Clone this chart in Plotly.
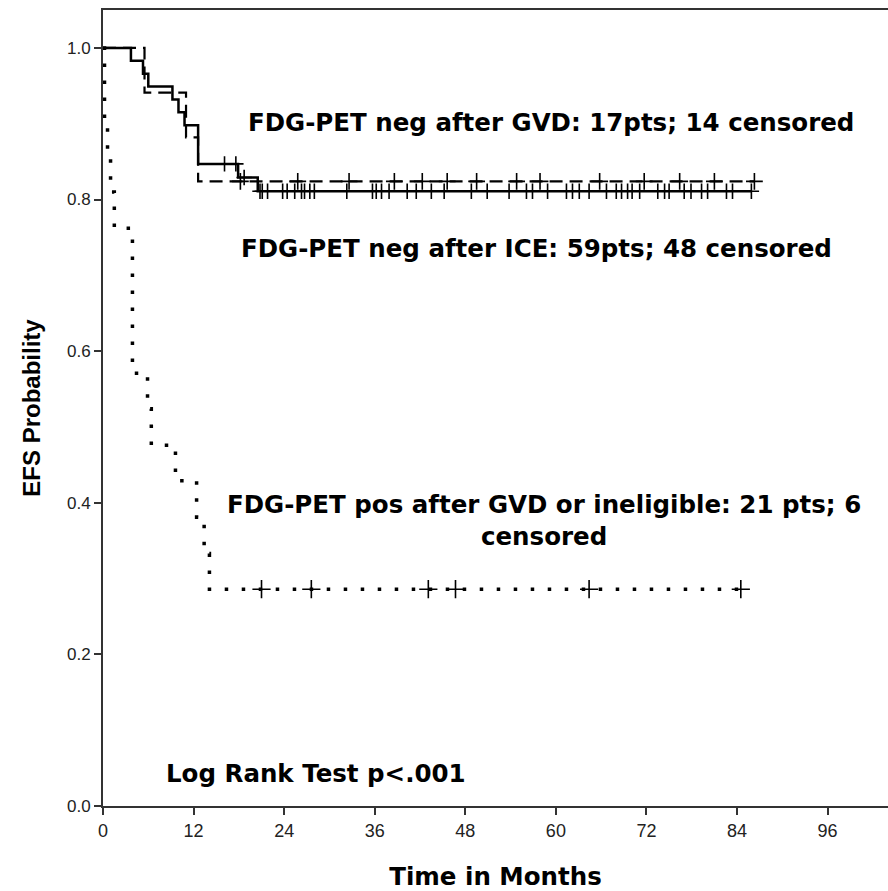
import plotly.graph_objects as go

# ---------------- data ----------------
# FDG-PET neg after ICE (solid): event times (months) and survival after each event
ice_times = [0, 3.7, 5.3, 6.0, 9.2, 10.0, 10.8, 12.6, 17.9, 20.5]
ice_surv = [1.0, 0.983, 0.966, 0.949, 0.932, 0.915, 0.898, 0.847, 0.829, 0.811]
ice_end = 85.9
ice_censored = [16.1, 17.6, 18.7, 20.8, 21.1, 21.8, 23.8, 24.4, 25.4, 26.3, 26.7, 27.4,
                28.0, 32.3, 35.7, 36.2, 36.9, 37.9, 40.3, 41.5, 43.5, 45.2, 48.8, 50.9,
                53.8, 56.1, 56.9, 58.9, 61.4, 62.2, 63.1, 64.4, 66.7, 68.0, 68.7, 69.5,
                70.1, 71.1, 73.5, 74.4, 75.0, 77.0, 77.9, 79.3, 80.1, 82.6, 83.4, 85.9]

# FDG-PET neg after GVD (dashed)
gvd_times = [0, 5.5, 11.0, 12.6]
gvd_surv = [1.0, 0.941, 0.882, 0.824]
gvd_end = 86.3
gvd_censored = [18.2, 25.8, 32.6, 38.6, 42.3, 45.6, 49.5, 54.8, 57.9, 65.8, 71.7, 76.4, 81.0, 86.3]

# FDG-PET pos after GVD or ineligible (dotted)
pos_times = [0, 0.2, 0.6, 1.0, 1.5, 3.9, 5.9, 6.4, 9.6, 12.4, 13.4, 14.1]
pos_surv = [1.0, 0.905, 0.857, 0.810, 0.762, 0.571, 0.524, 0.476, 0.429, 0.381, 0.333, 0.286]
pos_end = 84.5
pos_censored = [21.0, 27.6, 43.1, 46.7, 64.4, 84.5]

x_ticks = [0, 12, 24, 36, 48, 60, 72, 84, 96]
y_ticks = [0.0, 0.2, 0.4, 0.6, 0.8, 1.0]


def surv_at(t, times, surv):
    s = surv[0]
    for ti, si in zip(times, surv):
        if ti <= t:
            s = si
    return s


fig = go.Figure()


def add_curve(times, surv, end, cens, dash, width, msize):
    xs = list(times) + [end]
    ys = list(surv) + [surv[-1]]
    fig.add_trace(go.Scatter(x=xs, y=ys, mode="lines", line_shape="hv",
                             line=dict(color="black", width=width, dash=dash),
                             showlegend=False, hoverinfo="skip"))
    fig.add_trace(go.Scatter(x=cens, y=[surv_at(c, times, surv) for c in cens],
                             mode="markers",
                             marker=dict(symbol="cross-thin", size=msize,
                                         line=dict(color="black", width=1.6)),
                             showlegend=False, hoverinfo="skip"))


add_curve(pos_times, pos_surv, pos_end, pos_censored, "3.5px,13.5px", 3.5, 13)
add_curve(gvd_times, gvd_surv, gvd_end, gvd_censored, "13px,7px", 2.2, 12)
add_curve(ice_times, ice_surv, ice_end, ice_censored, "solid", 2.5, 11)

# plot area in pixels: left 103, right 888, top 10, bottom 806
L, R, T, B = 103, 888, 10, 806

ann_font = dict(family="DejaVu Sans", size=24.5, color="black")
annotations = [
    dict(x=551, y=122, text="<b>FDG-PET neg after GVD: 17pts; 14 censored</b>"),
    dict(x=536, y=248, text="<b>FDG-PET neg after ICE: 59pts; 48 censored</b>"),
    dict(x=544, y=520, text="<b>FDG-PET pos after GVD or ineligible: 21 pts; 6<br>censored</b>"),
    dict(x=316, y=773, text="<b>Log Rank Test p<.001</b>"),
]
for a in annotations:
    fig.add_annotation(x=(a["x"] - L) / (R - L), y=(B - a["y"]) / (B - T),
                       xref="paper", yref="paper",
                       text=a["text"], showarrow=False, font=ann_font,
                       xanchor="center", yanchor="middle", align="center")

axis_col = "#333333"
fig.update_layout(
    width=888, height=891,
    margin=dict(l=L, r=888 - R, t=T, b=891 - B),
    paper_bgcolor="white", plot_bgcolor="white",
    font=dict(family="Liberation Sans", color="#222222"),
    xaxis=dict(range=[0, 104], tickvals=x_ticks, ticktext=[str(v) for v in x_ticks],
               showgrid=False, zeroline=False, showline=True, linecolor=axis_col,
               linewidth=2, mirror=True, ticks="outside", ticklen=7, tickwidth=1.5,
               tickcolor=axis_col, tickfont=dict(size=18, family="Liberation Sans"),
               title=dict(text="<b>Time in Months</b>",
                          font=dict(family="DejaVu Sans", size=24.5, color="black"),
                          standoff=28)),
    yaxis=dict(range=[0, 1.05], tickvals=y_ticks, ticktext=[f"{v:.1f}" for v in y_ticks],
               showgrid=False, zeroline=False, showline=True, linecolor=axis_col,
               linewidth=2, mirror=False, ticks="outside", ticklen=7, tickwidth=1.5,
               tickcolor=axis_col, tickfont=dict(size=17, family="Liberation Sans"),
               title=dict(text="<b>EFS Probability</b>",
                          font=dict(family="Liberation Sans", size=24, color="black"),
                          standoff=20)),
)

fig.write_html("out.html")
